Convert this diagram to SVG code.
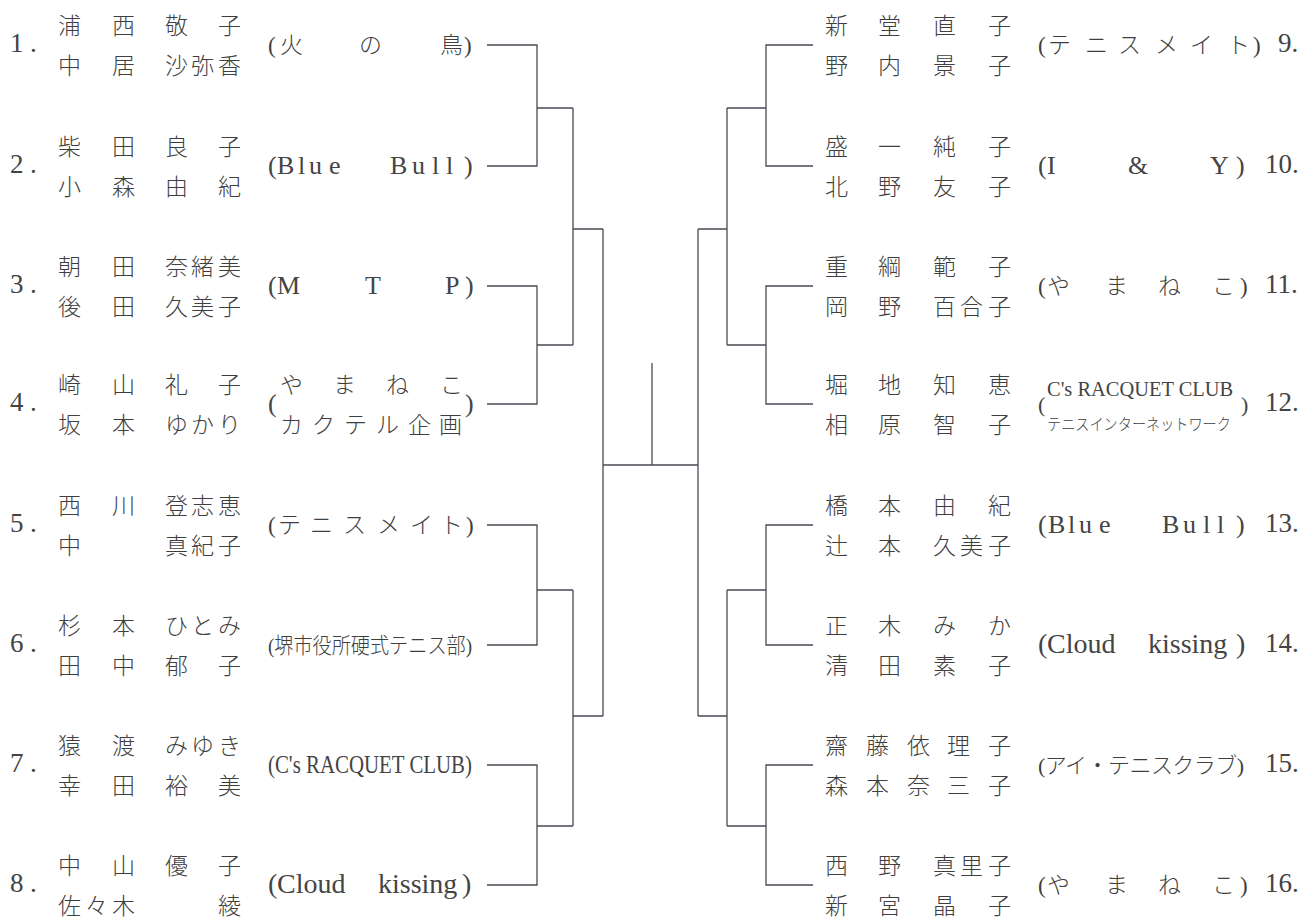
<svg xmlns="http://www.w3.org/2000/svg" width="1309" height="920" viewBox="0 0 1309 920">
<style>
.num{font-family:"Liberation Serif",serif;font-size:27px;fill:#444}
.nm{font-family:"Noto Sans CJK JP",sans-serif;font-size:23px;fill:#3f3f3f;font-weight:300}
.tj{font-family:"Liberation Serif","Noto Sans CJK JP",serif;font-size:23px;fill:#3f3f3f;font-weight:300}
.tl{font-family:"Liberation Serif",serif;font-size:26px;fill:#444}
.ck{font-family:"Liberation Serif",serif;font-size:28px;fill:#444}
.ln{fill:none;stroke:#4a4a55;stroke-width:1.3}
</style>
<rect width="1309" height="920" fill="#ffffff"/>
<g id="connectors" class="ln">
<path d="M487 45 H537 V166 H487 M537 108 H573"/>
<path d="M487 286 H537 V404 H487 M537 345 H573"/>
<path d="M573 108 V345 M573 229 H603"/>
<path d="M487 525 H537 V645 H487 M537 590 H573"/>
<path d="M487 765 H537 V885 H487 M537 826 H573"/>
<path d="M573 590 V826 M573 716 H603"/>
<path d="M603 229 V716 M603 465 H698 M652 363 V465"/>
<path d="M813 45 H766 V166 H813 M766 108 H727"/>
<path d="M813 286 H766 V404 H813 M766 345 H727"/>
<path d="M727 108 V345 M727 229 H698"/>
<path d="M813 525 H766 V645 H813 M766 590 H727"/>
<path d="M813 765 H766 V885 H813 M766 826 H727"/>
<path d="M727 590 V826 M727 716 H698"/>
<path d="M698 229 V716"/>
</g>
<g id="entry-1">
<text class="num" x="10 30" y="52">1.</text>
<text class="nm" x="58 112 165 218" y="34">浦西敬子</text>
<text class="nm" x="58 112 165 191 218" y="74">中居沙弥香</text>
<text class="tj" x="268 280 359 440 464" y="53">(火の鳥)</text>
</g>
<g id="entry-2">
<text class="num" x="10 30" y="173">2.</text>
<text class="nm" x="58 112 165 218" y="155">柴田良子</text>
<text class="nm" x="58 112 165 218" y="195">小森由紀</text>
<text class="tl" x="268 277 298 309 329 360 390 412 432 446 464" y="174">(Blue Bull)</text>
</g>
<g id="entry-3">
<text class="num" x="10 30" y="293">3.</text>
<text class="nm" x="58 112 165 191 218" y="275">朝田奈緒美</text>
<text class="nm" x="58 112 165 191 218" y="315">後田久美子</text>
<text class="tl" x="268 277 365 445 465" y="294">(MTP)</text>
</g>
<g id="entry-4">
<text class="num" x="10 30" y="411">4.</text>
<text class="nm" x="58 112 165 218" y="393">崎山礼子</text>
<text class="nm" x="58 112 165 191 218" y="433">坂本ゆかり</text>
<text class="tj" x="280 333 386 440" y="393">やまねこ</text>
<text class="tj" x="280 312 344 376 408 439" y="433">カクテル企画</text>
<text class="tl" x="268" y="412">(</text>
<text class="tl" x="465" y="412">)</text>
</g>
<g id="entry-5">
<text class="num" x="10 30" y="532">5.</text>
<text class="nm" x="58 112 165 191 218" y="514">西川登志恵</text>
<text class="nm" x="58 165 191 218" y="554">中真紀子</text>
<text class="tj" x="268 278 310 343 377 410 440 466" y="533">(テニスメイト)</text>
</g>
<g id="entry-6">
<text class="num" x="10 30" y="652">6.</text>
<text class="nm" x="58 112 165 191 218" y="634">杉本ひとみ</text>
<text class="nm" x="58 112 165 218" y="674">田中郁子</text>
<text class="tj" x="268" y="653" style="font-size:22px" textLength="204" lengthAdjust="spacingAndGlyphs">(堺市役所硬式テニス部)</text>
</g>
<g id="entry-7">
<text class="num" x="10 30" y="772">7.</text>
<text class="nm" x="58 112 165 191 218" y="754">猿渡みゆき</text>
<text class="nm" x="58 112 165 218" y="794">幸田裕美</text>
<text class="tl" x="268" y="773" style="font-size:25px" textLength="204" lengthAdjust="spacingAndGlyphs">(C's RACQUET CLUB)</text>
</g>
<g id="entry-8">
<text class="num" x="10 30" y="892">8.</text>
<text class="nm" x="58 112 165 218" y="874">中山優子</text>
<text class="nm" x="58 85 112 218" y="914">佐々木綾</text>
<text class="ck" y="893"><tspan x="268">(</tspan><tspan x="277">Cloud</tspan><tspan x="378">kissing</tspan><tspan x="462">)</tspan></text>
</g>
<g id="entry-9">
<text class="nm" x="825 878 933 988" y="34">新堂直子</text>
<text class="nm" x="825 878 933 988" y="74">野内景子</text>
<text class="tj" x="1038 1048 1085 1118 1155 1190 1227 1253" y="53">(テニスメイト)</text>
<text class="num" x="1278" y="52">9.</text>
</g>
<g id="entry-10">
<text class="nm" x="825 878 933 988" y="155">盛一純子</text>
<text class="nm" x="825 878 933 988" y="195">北野友子</text>
<text class="tl" x="1038 1047 1128 1210 1236" y="174">(I&amp;Y)</text>
<text class="num" x="1265" y="173">10.</text>
</g>
<g id="entry-11">
<text class="nm" x="825 878 933 988" y="275">重綱範子</text>
<text class="nm" x="825 878 933 960 988" y="315">岡野百合子</text>
<text class="tj" x="1038 1047 1105 1158 1212 1240" y="294">(やまねこ)</text>
<text class="num" x="1265" y="293">11.</text>
</g>
<g id="entry-12">
<text class="nm" x="825 878 933 988" y="393">堀地知恵</text>
<text class="nm" x="825 878 933 988" y="433">相原智子</text>
<text class="tl" x="1038" y="412" style="font-size:22px">(</text>
<text class="tl" transform="translate(1047 396) scale(0.93 1)" style="font-size:22px">C's RACQUET CLUB</text>
<text class="tj" transform="translate(1047 430) scale(0.885 1)" style="font-size:16px">テニスインターネットワーク</text>
<text class="tl" x="1241" y="412" style="font-size:22px">)</text>
<text class="num" x="1265" y="411">12.</text>
</g>
<g id="entry-13">
<text class="nm" x="825 878 933 988" y="514">橋本由紀</text>
<text class="nm" x="825 878 933 960 988" y="554">辻本久美子</text>
<text class="tl" x="1038 1048 1068 1079 1099 1130 1162 1183 1203 1217 1236" y="533">(Blue Bull)</text>
<text class="num" x="1265" y="532">13.</text>
</g>
<g id="entry-14">
<text class="nm" x="825 878 933 988" y="634">正木みか</text>
<text class="nm" x="825 878 933 988" y="674">清田素子</text>
<text class="ck" y="653"><tspan x="1038">(</tspan><tspan x="1047">Cloud</tspan><tspan x="1148">kissing</tspan><tspan x="1236">)</tspan></text>
<text class="num" x="1265" y="652">14.</text>
</g>
<g id="entry-15">
<text class="nm" x="825 866 907 947 988" y="754">齋藤依理子</text>
<text class="nm" x="825 866 907 947 988" y="794">森本奈三子</text>
<text class="tj" x="1038" y="773" style="font-size:22px" textLength="206" lengthAdjust="spacing">(アイ・テニスクラブ)</text>
<text class="num" x="1265" y="772">15.</text>
</g>
<g id="entry-16">
<text class="nm" x="825 878 933 960 988" y="874">西野真里子</text>
<text class="nm" x="825 878 933 988" y="914">新宮晶子</text>
<text class="tj" x="1038 1047 1105 1158 1212 1240" y="893">(やまねこ)</text>
<text class="num" x="1265" y="892">16.</text>
</g>
</svg>
